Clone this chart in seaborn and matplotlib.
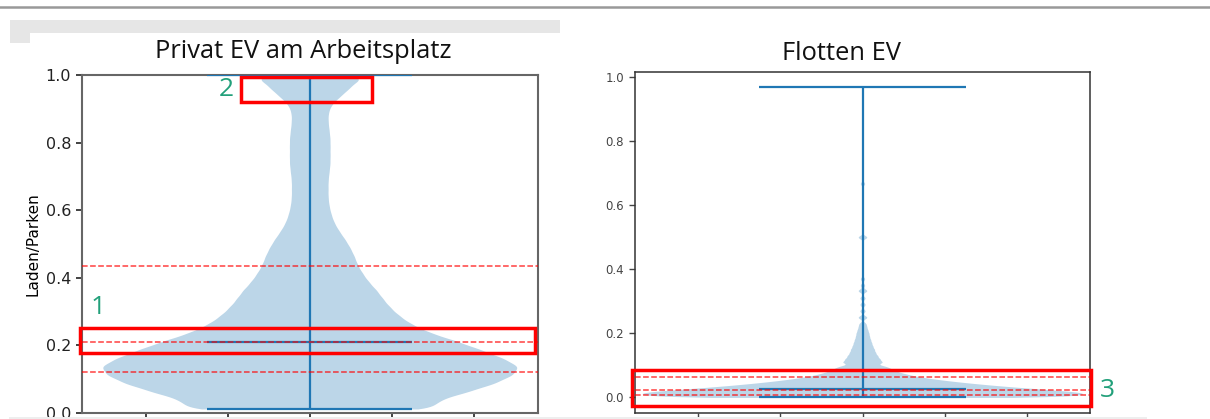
import numpy as np
import matplotlib
matplotlib.use("Agg")
import matplotlib.pyplot as plt
from matplotlib.patches import Rectangle
from matplotlib.lines import Line2D
import seaborn as sns

# --- Daten ---
# Privat EV am Arbeitsplatz: Werte-Stufen und relative Haeufigkeiten
privat_levels = [0.012, 0.0375, 0.0625, 0.0875, 0.1125, 0.1375, 0.1625, 0.1875,
                 0.2125, 0.2375, 0.2625, 0.2875, 0.3125, 0.3375, 0.3625, 0.3875,
                 0.4125, 0.4375, 0.4625, 0.4875, 0.5125, 0.5375, 0.5625, 0.5875,
                 0.6125, 0.6375, 0.6625, 0.6875, 0.7125, 0.7375, 0.7625, 0.7875,
                 0.8125, 0.8375, 0.8625, 0.8875, 0.9125, 0.9375, 0.9625, 0.9875, 1.0]
privat_counts = [130, 125, 155, 182, 200, 207, 190, 168,
                 145, 118, 100, 88, 79, 72, 66, 58,
                 52, 47, 44, 40, 35, 29, 24, 21,
                 19, 18, 18, 18, 19, 20, 20, 20,
                 20, 19, 18, 18, 21, 30, 40, 42, 28]
privat_stats = {"min": 0.012, "median": 0.21, "max": 1.0}
privat_quartile_lines = [0.12, 0.21, 0.435]

# Flotten EV
flotten_levels = [0.0, 0.005, 0.01, 0.015, 0.02, 0.025, 0.03, 0.035, 0.04, 0.045,
                  0.05, 0.055, 0.06, 0.065, 0.07, 0.075, 0.08, 0.085, 0.09, 0.095,
                  0.1, 0.11, 0.12, 0.13, 0.14, 0.15, 0.16, 0.17, 0.18, 0.19,
                  0.2, 0.21, 0.22, 0.23, 0.25, 0.27, 0.29, 0.31, 0.333, 0.35, 0.37,
                  0.5, 0.667, 0.967]
flotten_counts = [200, 195, 210, 208, 190, 170, 150, 130, 114, 98,
                  84, 72, 60, 51, 44, 38, 33, 29, 26, 24,
                  22, 38, 32, 28, 24, 22, 19, 17, 15, 13,
                  12, 10, 8, 7, 10, 6, 6, 6, 10, 5, 5,
                  10, 5, 1]
flotten_stats = {"min": 0.0, "median": 0.025, "max": 0.967}
flotten_quartile_lines = [0.009, 0.022, 0.063]

tick_pos = [-0.4, -0.2, 0.0, 0.2, 0.4]
yticks = [0.0, 0.2, 0.4, 0.6, 0.8, 1.0]

body_color = "#bcd6e8"
line_color = "#1f77b4"
green = "#22a07a"

W, H = 1210, 419


def fx(px):
    return px / W


def fy(py):
    return 1 - py / H


def draw_violin(ax, levels, counts, stats, qlines, bw, width):
    sample = np.repeat(levels, counts)
    factor = bw / np.std(sample)
    sns.violinplot(y=sample, ax=ax, inner=None, cut=0, density_norm="width",
                   width=width, bw_method=factor, color=body_color,
                   saturation=1, linewidth=0, gridsize=400)
    # Extrema, Median und Mittelstrich wie bei plt.violinplot
    ax.vlines(0, stats["min"], stats["max"], color=line_color, lw=1.6, zorder=3)
    for key in ["min", "median", "max"]:
        ax.hlines(stats[key], -0.25, 0.25, color=line_color, lw=1.6, zorder=3)
    for q in qlines:
        ax.axhline(q, color="red", ls="--", lw=1.1, alpha=0.75, zorder=4)
    ax.set_xticks(tick_pos)
    ax.set_xticklabels([""] * len(tick_pos))
    ax.set_yticks(yticks)
    ax.set_yticklabels([f"{t:.1f}" for t in yticks])


fig = plt.figure(figsize=(12.1, 4.19), dpi=100)

# linkes Panel
ax1 = fig.add_axes([fx(81.5), fy(413), fx(538) - fx(81.5), (413 - 75) / H])
draw_violin(ax1, privat_levels, privat_counts, privat_stats, privat_quartile_lines,
            0.015, 1.01)
ax1.set_xlim(-0.557, 0.557)
ax1.set_ylim(0, 1.0)
ax1.tick_params(labelsize=11.5, colors="#222222", length=4, width=1.2)
ax1.set_ylabel("Laden/Parken", fontsize=11)
for s in ax1.spines.values():
    s.set_color("#666666")
    s.set_linewidth(1.5)

# rechtes Panel
ax2 = fig.add_axes([fx(635), fy(413), fx(1090) - fx(635), (413 - 72) / H])
draw_violin(ax2, flotten_levels, flotten_counts, flotten_stats, flotten_quartile_lines,
            0.005, 1.07)
ax2.set_xlim(-0.552, 0.552)
ax2.set_ylim(-0.0485, 1.015)
ax2.tick_params(labelsize=8.5, colors="#444444", length=4.5, width=1.0)
for s in ax2.spines.values():
    s.set_color("#333333")
    s.set_linewidth(1.1)

# Titel
fig.text(fx(303), fy(52), "Privat EV am Arbeitsplatz", family="Open Sans",
         fontsize=18.4, ha="center", va="center", color="#111111")
fig.text(fx(842), fy(53), "Flotten EV", family="Open Sans",
         fontsize=18.4, ha="center", va="center", color="#111111")

# Markierungen
boxes = [(80, 328, 535, 353), (241, 77, 372, 102), (632, 370, 1091, 406)]
for x0, y0, x1, y1 in boxes:
    fig.add_artist(Rectangle((fx(x0), fy(y1)), fx(x1) - fx(x0), fy(y0) - fy(y1),
                             fill=False, edgecolor="red", lw=2.5, zorder=5))
labels = [("1", 98, 307), ("2", 226, 90), ("3", 1107, 390)]
for txt, x, y in labels:
    fig.text(fx(x), fy(y), txt, family="Open Sans", fontsize=19, color=green,
             ha="center", va="center")

# Bildschirm-Reste (Rahmen)
fig.add_artist(Line2D([0, 1], [fy(7), fy(7)], color="#999999", lw=1.8))
fig.add_artist(Rectangle((fx(10), fy(33)), fx(560) - fx(10), fy(20) - fy(33),
                         facecolor="#e6e6e6", edgecolor="none"))
fig.add_artist(Rectangle((fx(10), fy(43)), fx(30) - fx(10), fy(33) - fy(43),
                         facecolor="#e6e6e6", edgecolor="none"))
fig.add_artist(Rectangle((fx(9), 0), fx(600) - fx(9), fy(416.5),
                         facecolor="#eeeeee", edgecolor="none"))
fig.add_artist(Rectangle((fx(596), 0), fx(1147) - fx(596), fy(416.5),
                         facecolor="#eeeeee", edgecolor="none"))

fig.savefig("out.png", dpi=100)
